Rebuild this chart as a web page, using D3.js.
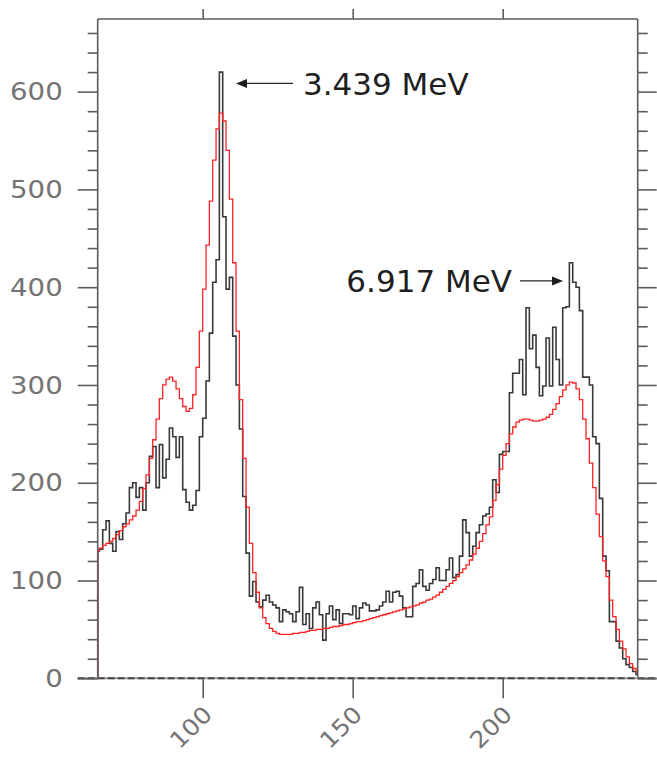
<!DOCTYPE html>
<html>
<head>
<meta charset="utf-8">
<script src="https://cdn.jsdelivr.net/npm/d3@7"></script>
<style>
  html, body { margin: 0; padding: 0; background: #ffffff; }
  svg { display: block; }
</style>
</head>
<body>
<svg id="chart" width="657" height="759"></svg>
<script>
// ---- Spectrum data -------------------------------------------------------
// Channel axis: bins are centred on equally spaced channels from 65 to 245.
const channelDomain = [65, 245];
const binWidth = 180 / 162;

// Measured counts per bin (black histogram).
const measured = [
  130, 132, 152, 161, 138, 130, 150, 142, 158, 169,
  195, 200, 185, 195, 172, 200, 227, 237, 195, 239,
  205, 224, 256, 247, 226, 247, 193, 180, 172, 177,
  192, 247, 266, 304, 353, 405, 428, 620, 472, 398,
  410, 350, 300, 255, 186, 128, 84, 99, 78, 73,
  80, 85, 78, 75, 72, 58, 70, 68, 66, 58,
  68, 93, 55, 66, 51, 72, 78, 65, 39, 66,
  74, 60, 70, 56, 66, 66, 65, 74, 61, 72,
  77, 75, 69, 69, 70, 74, 78, 89, 78, 88,
  89, 84, 72, 63, 63, 94, 97, 111, 94, 90,
  97, 101, 113, 100, 100, 111, 123, 103, 106, 125,
  162, 149, 125, 135, 149, 157, 166, 168, 175, 203,
  190, 229, 232, 232, 292, 312, 312, 326, 290, 379,
  337, 351, 318, 289, 299, 348, 299, 359, 326, 300,
  379, 380, 425, 405, 400, 376, 308, 308, 300, 247,
  240, 184, 125, 110, 58, 58, 38, 31, 20, 14,
  11, 7, 4
];

// Simulated response per bin (red histogram).
const simulated = [
  130, 133, 136, 138, 140, 143, 147, 151, 155, 158,
  162, 166, 172, 181, 194, 208, 225, 244, 265, 286,
  300, 306, 308, 304, 296, 286, 278, 273, 276, 290,
  318, 355, 398, 443, 488, 530, 562, 578, 570, 540,
  490, 425, 355, 285, 225, 175, 138, 108, 88, 72,
  62, 56, 51, 48, 46, 45, 45, 45, 45, 46,
  46, 47, 47, 48, 49, 49, 50, 50, 51, 51,
  52, 53, 53, 54, 55, 55, 56, 57, 58, 58,
  59, 60, 61, 62, 63, 64, 65, 66, 67, 68,
  69, 70, 71, 72, 73, 74, 75, 77, 78, 80,
  81, 83, 85, 88, 91, 94, 97, 100, 104, 108,
  112, 116, 121, 127, 133, 140, 148, 157, 165, 182,
  198, 214, 228, 240, 250, 257, 262, 264, 265, 265,
  264, 263, 263, 264, 265, 267, 270, 275, 281, 288,
  295, 300, 303, 302, 296, 285, 265, 245, 220, 195,
  168, 145, 120, 104, 80, 63, 50, 38, 30, 22,
  15, 10, 6
];

const yMajorTicks = [0, 100, 200, 300, 400, 500, 600];
const yMinorTicks = [20, 40, 60, 80, 120, 140, 160, 180, 220, 240, 260, 280,
                     320, 340, 360, 380, 420, 440, 460, 480, 520, 540, 560, 580,
                     620, 640, 660];
const xTicks = [100, 150, 200];

// Peak annotations: arrow tip at (channel, counts), text beside it.
const peakNotes = [
  { label: "3.439 MeV", channel: 111.1, counts: 608.4, side: "right" },
  { label: "6.917 MeV", channel: 220.1, counts: 406.4, side: "left" }
];

// ---- Layout --------------------------------------------------------------
const plot = { left: 97.7, right: 637.7, top: 19, bottom: 678.3 };
const axisColor = "#5c5c5c";
const labelColor = "#747474";
const font = "'DejaVu Sans', 'Liberation Sans', sans-serif";

const svg = d3.select("#chart");

const x = d3.scaleLinear().domain(channelDomain).range([plot.left, plot.right]);
const y = d3.scaleLinear().domain([0, 674.3]).range([plot.bottom, plot.top]);

svg.append("defs").append("clipPath").attr("id", "plot-clip")
  .append("rect")
  .attr("x", plot.left).attr("y", plot.top)
  .attr("width", plot.right - plot.left)
  .attr("height", plot.bottom - plot.top);

// ---- Histograms ----------------------------------------------------------
function stepPoints(values) {
  const pts = [[channelDomain[0], 0], [channelDomain[0], values[0]]];
  for (let j = 1; j < values.length; j++) {
    const edge = channelDomain[0] - binWidth / 2 + j * binWidth;
    pts.push([edge, values[j]]);
  }
  pts.push([channelDomain[1], 0]);
  return pts;
}

const stepLine = d3.line()
  .x(d => x(d[0]))
  .y(d => y(d[1]))
  .curve(d3.curveStepAfter);

const traces = svg.append("g").attr("clip-path", "url(#plot-clip)");

traces.append("path")
  .attr("d", stepLine(stepPoints(measured)))
  .attr("fill", "none")
  .attr("stroke", "#383838")
  .attr("stroke-width", 1.6)
  .attr("stroke-linejoin", "miter");

traces.append("path")
  .attr("d", stepLine(stepPoints(simulated)))
  .attr("fill", "none")
  .attr("stroke", "#ff2222")
  .attr("stroke-width", 1.3)
  .attr("stroke-linejoin", "miter");

// ---- Frame ---------------------------------------------------------------
const frame = svg.append("g")
  .attr("stroke", axisColor).attr("stroke-width", 1.6).attr("fill", "none");
frame.append("line").attr("x1", plot.left).attr("x2", plot.left)
  .attr("y1", plot.top).attr("y2", plot.bottom);
frame.append("line").attr("x1", plot.right).attr("x2", plot.right)
  .attr("y1", plot.top).attr("y2", plot.bottom);
frame.append("line").attr("x1", plot.left).attr("x2", plot.right)
  .attr("y1", plot.top).attr("y2", plot.top);
// zero line along the bottom, drawn dashed over a light rule
frame.append("line").attr("x1", plot.left - 20).attr("x2", plot.right + 19)
  .attr("y1", y(0)).attr("y2", y(0)).attr("stroke", "#a0a0a0").attr("stroke-width", 2);
frame.append("line").attr("x1", plot.left - 20).attr("x2", plot.right + 19)
  .attr("y1", y(0)).attr("y2", y(0))
  .attr("stroke", "#474747").attr("stroke-width", 2).attr("stroke-dasharray", "7,3");

// ---- Ticks ---------------------------------------------------------------
function ticks(axis, translate) {
  const g = svg.append("g").attr("transform", translate).call(axis);
  g.select(".domain").remove();
  g.selectAll(".tick line").attr("stroke", axisColor).attr("stroke-width", 1.6);
  g.selectAll(".tick text").remove();
  return g;
}

ticks(d3.axisLeft(y).tickValues(yMajorTicks).tickSize(20), `translate(${plot.left},0)`);
ticks(d3.axisLeft(y).tickValues(yMinorTicks).tickSize(10), `translate(${plot.left},0)`);
ticks(d3.axisRight(y).tickValues(yMajorTicks).tickSize(19), `translate(${plot.right},0)`);
ticks(d3.axisRight(y).tickValues(yMinorTicks).tickSize(10), `translate(${plot.right},0)`);
ticks(d3.axisBottom(x).tickValues(xTicks).tickSize(20), `translate(0,${plot.bottom})`);
ticks(d3.axisTop(x).tickValues(xTicks).tickSize(10), `translate(0,${plot.top})`);

// ---- Tick labels ---------------------------------------------------------
svg.append("g").selectAll("text")
  .data(yMajorTicks)
  .join("text")
  .attr("transform", d => `translate(62.7,${y(d)}) scale(1.15,1)`)
  .attr("text-anchor", "end")
  .attr("dy", "0.36em")
  .attr("font-family", font)
  .attr("font-size", 24)
  .attr("fill", labelColor)
  .text(d => d);

svg.append("g").selectAll("text")
  .data(xTicks)
  .join("text")
  .attr("transform", d => `translate(${x(d) + 11},716) rotate(-45) scale(1.1,1)`)
  .attr("text-anchor", "end")
  .attr("font-family", font)
  .attr("font-size", 23)
  .attr("fill", labelColor)
  .text(d => d);

// ---- Peak annotations ----------------------------------------------------
const notes = svg.append("g");
peakNotes.forEach(n => {
  const tx = x(n.channel), ty = y(n.counts);
  const dir = n.side === "right" ? 1 : -1;      // direction from tip to text
  const shaft = n.side === "right" ? 57 : 43;
  notes.append("line")
    .attr("x1", tx + dir * 9).attr("x2", tx + dir * shaft)
    .attr("y1", ty).attr("y2", ty)
    .attr("stroke", "#2a2a2a").attr("stroke-width", 1.2);
  notes.append("path")
    .attr("d", `M${tx},${ty} L${tx + dir * 11},${ty - 4.5} L${tx + dir * 11},${ty + 4.5} Z`)
    .attr("fill", "#1e1e1e");
  notes.append("text")
    .attr("x", n.side === "right" ? tx + shaft + 10 : tx - shaft - 8)
    .attr("y", ty + 11.5)
    .attr("text-anchor", n.side === "right" ? "start" : "end")
    .attr("font-family", font)
    .attr("font-size", 31)
    .attr("fill", "#1f1f1f")
    .text(n.label);
});
</script>
</body>
</html>
